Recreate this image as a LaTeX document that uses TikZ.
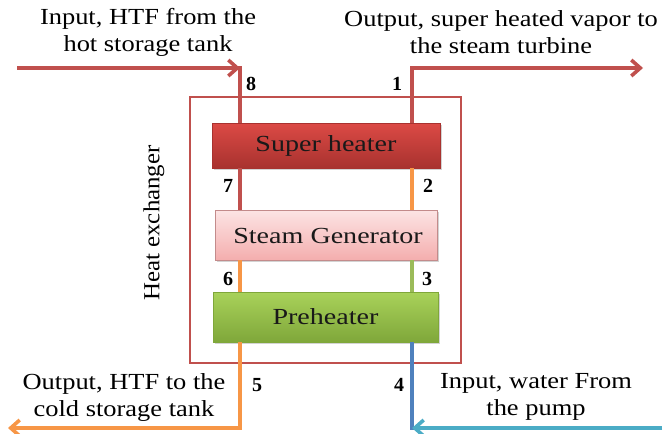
\documentclass[tikz,border=0pt]{standalone}
\usepackage{fontspec}
\setmainfont{Liberation Serif}
\usetikzlibrary{arrows.meta,shadows,calc}
\definecolor{pipered}{HTML}{C0504D}
\definecolor{pipeorange}{HTML}{F79646}
\definecolor{pipegreen}{HTML}{9BBB59}
\definecolor{pipeblue}{HTML}{4F81BD}
\definecolor{pipecyan}{HTML}{4BACC6}
\definecolor{shtop}{HTML}{DC4A45}
\definecolor{shbot}{HTML}{A8322F}
\definecolor{sgtop}{HTML}{FCE4E4}
\definecolor{sgbot}{HTML}{F4AEAE}
\definecolor{phtop}{HTML}{A9D25A}
\definecolor{phbot}{HTML}{7FA73A}
\begin{document}
\begin{tikzpicture}[x=1pt,y=-1pt,
  pipe/.style={line width=3.6pt},
  flow/.style={pipe,-{Straight Barb[length=9pt,width=16pt,line width=3.6pt]}},
  unit/.style={line width=0.6pt,
    drop shadow={opacity=0.35,shadow xshift=1.5pt,shadow yshift=-2pt}},
  unitlabel/.style={font=\fontsize{23}{25}\selectfont,xscale=1.22,inner sep=0pt,text=black!90},
  portno/.style={font=\fontsize{20}{22}\selectfont\bfseries},
  caption/.style={font=\fontsize{23}{27}\selectfont,align=center,xscale=1.15}]
\useasboundingbox (0,0) rectangle (665,434);

% heat exchanger casing
\node[draw=pipered,line width=1.3pt,minimum width=271pt,minimum height=266pt] (hx) at (325.5,230) {};
\node[rotate=90,font=\fontsize{23}{25}\selectfont,xscale=1.08] (hxlabel) at (154,223) {Heat exchanger};

% the three units
\node[unit,draw=shbot,top color=shtop,bottom color=shbot,
  minimum width=228pt,minimum height=45pt] (sh) at (326,145.5) {};
\node[unit,draw=sgbot!80!black,top color=sgtop,bottom color=sgbot,
  minimum width=222pt,minimum height=50pt] (sg) at (326,235) {};
\node[unit,draw=phbot,top color=phtop,bottom color=phbot,
  minimum width=225pt,minimum height=50pt] (ph) at (325.5,317) {};
\node[unitlabel] (shlabel) at (sh.center) {Super heater};
\node[unitlabel] (sglabel) at (328,236) {Steam Generator};
\node[unitlabel] (phlabel) at (ph.center) {Preheater};

% pipe end points
\coordinate (htfin) at (17,68);
\coordinate (p8) at (240,68);
\coordinate (p1) at (412,68);
\coordinate (vapout) at (643,68);
\coordinate (p5) at (240,428);
\coordinate (htfout) at (8,428);
\coordinate (p4) at (412,428);
\coordinate (waterin) at (662,428);

% HTF side (left pipe)
\draw[flow,pipered] (htfin) -- (p8);
\draw[pipe,pipered] ($(p8)+(0,-1.8)$) -- (p8 |- sh.north);
\draw[pipe,pipered] (sh.south -| p8) -- (sg.north -| p8);
\draw[pipe,pipeorange] (sg.south -| p8) -- (ph.north -| p8);
\draw[pipe,pipeorange] (ph.south -| p8) -- ($(p5)+(0,1.8)$);
\draw[flow,pipeorange] (p5) -- (htfout);

% water/steam side (right pipe)
\draw[pipe,pipeblue] (ph.south -| p4) -- ($(p4)+(0,1.8)$);
\draw[flow,pipecyan] (waterin) -- (p4);
\draw[pipe,pipegreen] (ph.north -| p4) -- (sg.south -| p4);
\draw[pipe,pipeorange] (sg.north -| p4) -- (sh.south -| p4);
\draw[pipe,pipered] (sh.north -| p1) -- ($(p1)+(0,-1.8)$);
\draw[flow,pipered] ($(p1)+(-1.8,0)$) -- (vapout);

% port numbers
\node[portno] (n8) at (251,84) {8};
\node[portno] (n1) at (397,84) {1};
\node[portno] (n7) at (228,186) {7};
\node[portno] (n2) at (428,186) {2};
\node[portno] (n6) at (228,279) {6};
\node[portno] (n3) at (427,279) {3};
\node[portno] (n5) at (257,385) {5};
\node[portno] (n4) at (399,385) {4};

% stream captions
\node[caption] (c8) at (148,32) {Input, HTF from the\\hot storage tank};
\node[caption] (c1) at (501,32) {Output, super heated vapor to\\the steam turbine};
\node[caption] (c5) at (124,397) {Output, HTF to the\\cold storage tank};
\node[caption] (c4) at (536,397) {Input, water From\\the pump};
\end{tikzpicture}
\end{document}
